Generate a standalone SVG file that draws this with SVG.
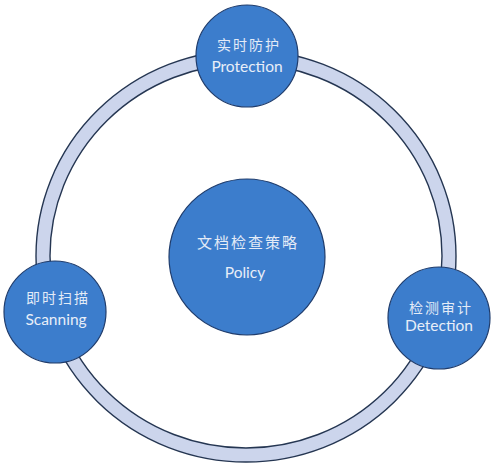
<svg xmlns="http://www.w3.org/2000/svg" width="500" height="468" viewBox="0 0 500 468">
<style>
.node{fill:#3c7dcc;stroke:#1f3c6c;stroke-width:1.2}
.band{fill:none;stroke:#ccd5ec;stroke-width:14}
.edge{fill:none;stroke:#253652;stroke-width:1.4}
.zh{font-family:"Noto Sans CJK SC",sans-serif;font-size:14px;fill:#e3ebf7;text-anchor:middle;letter-spacing:2px}
.en{font-family:Lato,"Open Sans",sans-serif;font-size:15.5px;fill:#e8eef8;text-anchor:middle}
</style>
<rect width="500" height="468" fill="#ffffff"/>
<g id="connectors">
<ellipse class="band" cx="246" cy="256" rx="203" ry="199"/>
<ellipse class="edge" cx="246" cy="256" rx="210" ry="206"/>
<ellipse class="edge" cx="246" cy="256" rx="196" ry="192"/>
</g>
<g id="policy">
<circle class="node" cx="247" cy="257" r="78"/>
<text class="zh" x="248" y="248" style="font-size:15px">文档检查策略</text>
<text class="en" x="245" y="278">Policy</text>
</g>
<g id="protection">
<circle class="node" cx="247" cy="56" r="51"/>
<text class="zh" x="249" y="50">实时防护</text>
<text class="en" x="247" y="72">Protection</text>
</g>
<g id="scanning">
<circle class="node" cx="55" cy="312" r="51"/>
<text class="zh" x="58" y="303">即时扫描</text>
<text class="en" x="56" y="325">Scanning</text>
</g>
<g id="detection">
<circle class="node" cx="439" cy="318" r="51"/>
<text class="zh" x="441" y="313">检测审计</text>
<text class="en" x="439" y="331">Detection</text>
</g>
</svg>
